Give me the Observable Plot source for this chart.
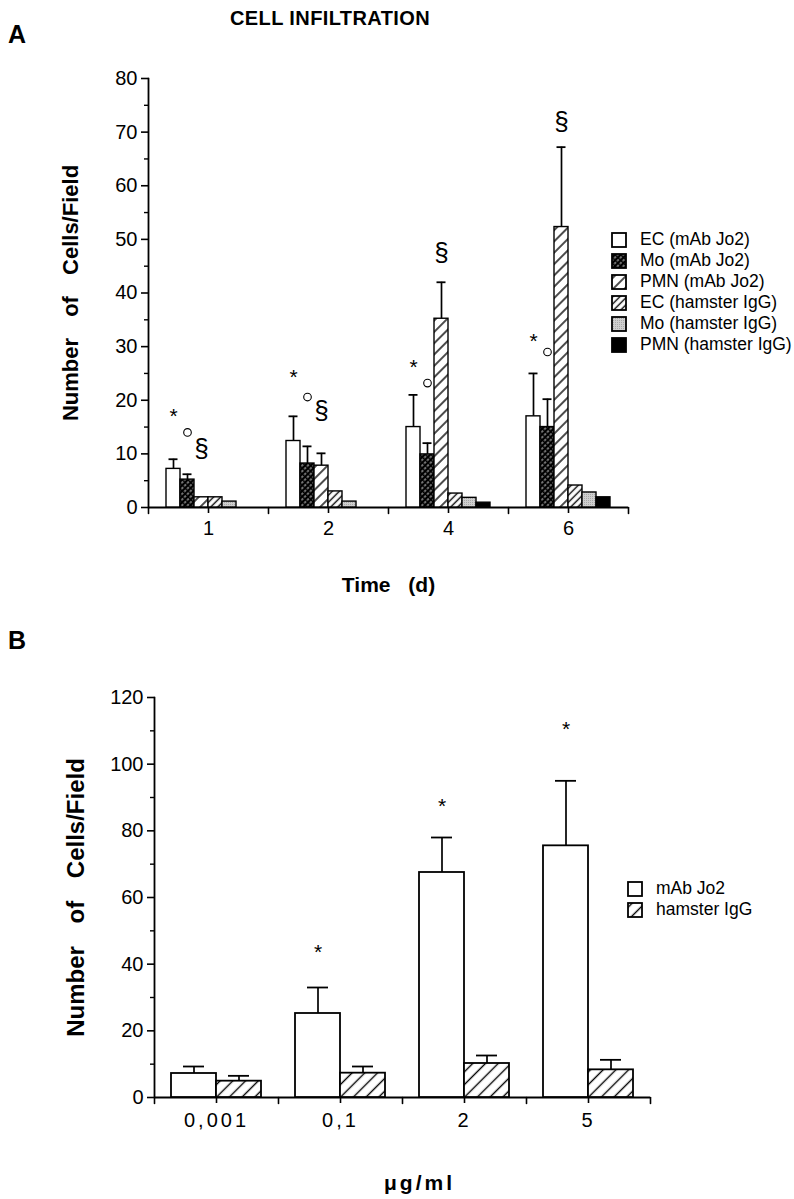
<!DOCTYPE html>
<html><head><meta charset="utf-8">
<script src="https://cdn.jsdelivr.net/npm/d3@7"></script>
<script src="https://cdn.jsdelivr.net/npm/@observablehq/plot@0.6"></script>
<style>
html,body{margin:0;padding:0;background:#fff;overflow:hidden;}
body{font-family:"Liberation Sans",Arial,Helvetica,sans-serif;color:#000;}
#wrap{position:relative;width:794px;height:1199px;}
.abs{position:absolute;}
.panel{font-weight:bold;font-size:25px;}
.title{font-weight:bold;font-size:20px;letter-spacing:0.4px;}
.leg{font-size:17.5px;line-height:21px;}
.leg div{display:flex;align-items:center;height:21px;}
.leg svg{margin-right:13px;}
#plotA g[aria-label="y-axis label"] text{font-weight:bold;font-size:22px;word-spacing:15px;}
#plotB g[aria-label="y-axis label"] text{font-weight:bold;font-size:24px;word-spacing:16px;}
g[aria-label="fx-axis label"] text{font-weight:bold;font-size:21px;word-spacing:12px;}
#plotB g[aria-label="fx-axis label"] text{letter-spacing:3px;}
#plotB g[aria-label="fx-axis tick label"] text{letter-spacing:3px;}
</style></head>
<body><div id="wrap">
<svg width="0" height="0" style="position:absolute">
<defs>
<pattern id="pMo" patternUnits="userSpaceOnUse" width="4" height="4" patternTransform="rotate(45)">
<rect width="4" height="4" fill="#000"/>
<line x1="2" y1="0" x2="2" y2="4" stroke="#fff" stroke-width="0.9" stroke-dasharray="1.5 1.5"/>
</pattern>
<pattern id="pWide" patternUnits="userSpaceOnUse" width="8" height="8" patternTransform="rotate(45)">
<rect width="8" height="8" fill="#fff"/>
<line x1="4" y1="0" x2="4" y2="8" stroke="#000" stroke-width="1.4"/>
</pattern>
<pattern id="pDense" patternUnits="userSpaceOnUse" width="5" height="5" patternTransform="rotate(45)">
<rect width="5" height="5" fill="#fff"/>
<line x1="2.5" y1="0" x2="2.5" y2="5" stroke="#000" stroke-width="1.4"/>
</pattern>
<pattern id="pGray" patternUnits="userSpaceOnUse" width="2" height="2">
<rect width="2" height="2" fill="#cfcfcf"/>
<rect width="1" height="1" fill="#a8a8a8"/>
</pattern>
<pattern id="pB" patternUnits="userSpaceOnUse" width="9" height="9" patternTransform="rotate(45)">
<rect width="9" height="9" fill="#fff"/>
<line x1="4.5" y1="0" x2="4.5" y2="9" stroke="#000" stroke-width="1.4"/>
</pattern>
</defs>
</svg>
<div class="abs panel" style="left:8px;top:20px;">A</div>
<div class="abs title" style="left:0;width:660px;top:7px;text-align:center;">CELL INFILTRATION</div>
<div class="abs panel" style="left:8px;top:626px;">B</div>
<div id="plotA" class="abs" style="left:0;top:0;"></div>
<div id="plotB" class="abs" style="left:0;top:620px;"></div>
<div id="legA" class="abs leg" style="left:611px;top:229px;"></div>
<div id="legB" class="abs leg" style="left:627px;top:878px;"></div>
</div>
<script>
// ---------- Panel A data ----------
const times = ["1", "2", "4", "6"];
const seriesA = ["EC (mAb Jo2)", "Mo (mAb Jo2)", "PMN (mAb Jo2)", "EC (hamster IgG)", "Mo (hamster IgG)", "PMN (hamster IgG)"];
const ecMab = [7.2, 12.4, 15.0, 17.0];
const ecMabErr = [9.0, 17.0, 21.0, 25.0];
const moMab = [5.2, 8.2, 9.9, 15.0];
const moMabErr = [6.2, 11.4, 12.0, 20.2];
const pmnMab = [1.9, 7.8, 35.2, 52.3];
const pmnMabErr = [null, 10.1, 42.0, 67.2];
const ecHam = [1.9, 3.0, 2.6, 4.1];
const moHam = [1.1, 1.1, 1.8, 2.8];
const pmnHam = [0, 0, 0.9, 1.9];
const starA = [18.0, 25.3, 27.0, 32.0];
const circleA = [14.0, 20.6, 23.2, 29.0];
const sectionA = [11.0, 18.0, 47.5, 72.0];
const fillsA = ["#fff", "url(#pMo)", "url(#pWide)", "url(#pDense)", "url(#pGray)", "#000"];

// ---------- Panel B data ----------
const doses = ["0,001", "0,1", "2", "5"];
const seriesB = ["mAb Jo2", "hamster IgG"];
const mab = [7.2, 25.2, 67.5, 75.5];
const mabErr = [9.3, 33.0, 78.0, 95.0];
const ham = [4.9, 7.3, 10.2, 8.3];
const hamErr = [6.5, 9.3, 12.6, 11.3];
const starB = [null, 45.0, 89.0, 112.0];
const fillsB = ["#fff", "url(#pB)"];

// ---------- tables ----------
const valsA = [ecMab, moMab, pmnMab, ecHam, moHam, pmnHam];
const errsA = [ecMabErr, moMabErr, pmnMabErr, null, null, null];
const rowsA = [];
times.forEach((t, i) => seriesA.forEach((s, j) => rowsA.push({
  time: t, series: s, v: valsA[j][i], err: errsA[j] ? errsA[j][i] : null
})));
const annA = times.map((t, i) => ({time: t, star: starA[i], circle: circleA[i], sec: sectionA[i]}));

const valsB = [mab, ham];
const errsB = [mabErr, hamErr];
const rowsB = [];
doses.forEach((d, i) => seriesB.forEach((s, j) => rowsB.push({
  dose: d, series: s, v: valsB[j][i], err: errsB[j][i]
})));
const annB = doses.map((d, i) => ({dose: d, star: starB[i]})).filter(d => d.star != null);

const downShape = {draw(ctx, l) { ctx.moveTo(0, 0); ctx.lineTo(0, l); }};
const upShape = {draw(ctx, l) { ctx.moveTo(0, 0); ctx.lineTo(0, -l); }};
const font = '"Liberation Sans", Arial, Helvetica, sans-serif';

function barPanel(cfg) {
  const innerH = cfg.height - cfg.marginTop - cfg.marginBottom;
  const cats = cfg.cats, last = cats[cats.length - 1];
  return Plot.plot({
    width: 794, height: cfg.height,
    marginLeft: cfg.marginLeft, marginRight: cfg.marginRight, marginTop: cfg.marginTop, marginBottom: cfg.marginBottom,
    style: {fontFamily: font, fontSize: "20px", color: "#000", background: "transparent"},
    fx: {domain: cats, paddingInner: 0, paddingOuter: 0},
    x: {domain: cfg.series, paddingInner: 0, paddingOuter: cfg.outer, axis: null},
    y: {domain: cfg.yDomain},
    color: {domain: cfg.series, range: cfg.fills},
    marks: [
      Plot.axisY({ticks: cfg.majors, tickSize: 7, tickPadding: 4, strokeWidth: 1.6,
        label: "Number of Cells/Field", labelAnchor: "center", labelOffset: cfg.yLabelOffset, labelArrow: "none"}),
      Plot.axisY({ticks: cfg.minors, tickSize: 4, tickFormat: () => "", label: null, strokeWidth: 1.4}),
      Plot.axisFx({anchor: "bottom", tickSize: 6, tickPadding: cfg.tickPad, strokeWidth: 1.6,
        label: cfg.xLabel, labelAnchor: "center", labelOffset: cfg.xLabelOffset, labelArrow: "none"}),
      Plot.ruleY([0], {stroke: "#000", strokeWidth: 1.8}),
      Plot.vector([cats[0]], {fx: d => d, frameAnchor: "bottom-left", length: innerH, shape: upShape, anchor: "start", stroke: "#000", strokeWidth: 1.8}),
      Plot.vector(cats, {fx: d => d, frameAnchor: "bottom-left", length: 6, shape: downShape, anchor: "start", stroke: "#000", strokeWidth: 1.6}),
      Plot.vector([last], {fx: d => d, frameAnchor: "bottom-right", length: 6, shape: downShape, anchor: "start", stroke: "#000", strokeWidth: 1.6}),
      Plot.ruleX(cfg.rows.filter(d => d.err != null), {fx: cfg.fxKey, x: "series", y1: "v", y2: "err", stroke: "#000", strokeWidth: 1.7}),
      Plot.tickY(cfg.rows.filter(d => d.err != null), {fx: cfg.fxKey, x: "series", y: "err", stroke: "#000", strokeWidth: 1.8, insetLeft: cfg.capInset, insetRight: cfg.capInset}),
      Plot.barY(cfg.rows.filter(d => d.v > 0), {fx: cfg.fxKey, x: "series", y: "v", fill: "series", stroke: "#000", strokeWidth: cfg.barStroke}),
      ...cfg.extra
    ]
  });
}

const plotA = barPanel({
  height: 600, marginLeft: 148, marginRight: 166, marginTop: 78, marginBottom: 93,
  cats: times, series: seriesA, fills: fillsA, outer: 18 / 14, yDomain: [0, 80],
  majors: d3.range(0, 81, 10), minors: d3.range(5, 80, 10), yLabelOffset: 86,
  xLabel: "Time (d)", xLabelOffset: 84, tickPad: 7, rows: rowsA, fxKey: "time", capInset: 2.5, barStroke: 1.4,
  extra: [
    Plot.text(annA, {fx: "time", x: () => seriesA[0], y: "star", text: () => "*", fontSize: 21, dy: 5}),
    Plot.dot(annA, {fx: "time", x: () => seriesA[1], y: "circle", r: 3.8, stroke: "#000", strokeWidth: 1.1, fill: "none"}),
    Plot.text(annA, {fx: "time", x: () => seriesA[2], y: "sec", text: () => "§", fontSize: 26})
  ]
});
document.getElementById("plotA").append(plotA);

const plotB = barPanel({
  height: 579, marginLeft: 154, marginRight: 144, marginTop: 77, marginBottom: 102,
  cats: doses, series: seriesB, fills: fillsB, outer: 17 / 45, yDomain: [0, 120],
  majors: d3.range(0, 121, 20), minors: d3.range(10, 120, 20), yLabelOffset: 88,
  xLabel: "\u03bcg/ml", xLabelOffset: 92, tickPad: 9, rows: rowsB, fxKey: "dose", capInset: 12, barStroke: 1.8,
  extra: [
    Plot.text(annB, {fx: "dose", x: () => seriesB[0], y: "star", text: () => "*", fontSize: 21, dy: 5})
  ]
});
document.getElementById("plotB").append(plotB);
// the unit label sits a little right of the frame centre in the reference
d3.select(plotB).select('g[aria-label="fx-axis label"] text').attr("dx", 17);

// ---------- Legends ----------
function legend(el, names, fills) {
  const node = document.getElementById(el);
  names.forEach((n, i) => {
    const row = document.createElement("div");
    row.innerHTML = `<svg width="16" height="16"><rect x="1" y="1" width="14" height="14" fill="${fills[i]}" stroke="#000" stroke-width="1.8"/></svg><span>${n}</span>`;
    node.append(row);
  });
}
legend("legA", seriesA, fillsA);
legend("legB", seriesB, fillsB);
</script>
</body></html>
